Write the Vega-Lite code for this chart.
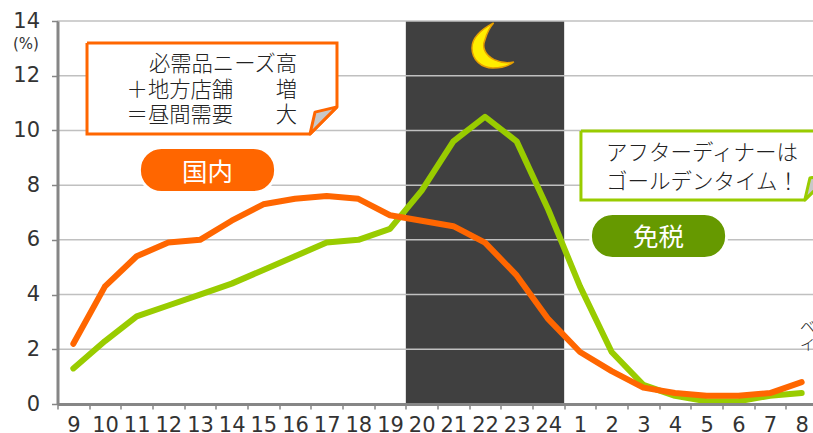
{
  "$schema": "https://vega.github.io/schema/vega-lite/v6.json",
  "width": 755.5,
  "height": 383,
  "autosize": "none",
  "padding": {"left": 57.5, "top": 21, "right": 0, "bottom": 29},
  "background": "white",
  "config": {"view": {"stroke": null}},
  "datasets": {
    "series": [
      {"hour":"9","group":"国内","share":2.2},{"hour":"10","group":"国内","share":4.3},{"hour":"11","group":"国内","share":5.4},{"hour":"12","group":"国内","share":5.9},
      {"hour":"13","group":"国内","share":6.0},{"hour":"14","group":"国内","share":6.7},{"hour":"15","group":"国内","share":7.3},{"hour":"16","group":"国内","share":7.5},
      {"hour":"17","group":"国内","share":7.6},{"hour":"18","group":"国内","share":7.5},{"hour":"19","group":"国内","share":6.9},{"hour":"20","group":"国内","share":6.7},
      {"hour":"21","group":"国内","share":6.5},{"hour":"22","group":"国内","share":5.9},{"hour":"23","group":"国内","share":4.7},{"hour":"24","group":"国内","share":3.1},
      {"hour":"1","group":"国内","share":1.9},{"hour":"2","group":"国内","share":1.2},{"hour":"3","group":"国内","share":0.6},{"hour":"4","group":"国内","share":0.4},
      {"hour":"5","group":"国内","share":0.3},{"hour":"6","group":"国内","share":0.3},{"hour":"7","group":"国内","share":0.4},{"hour":"8","group":"国内","share":0.8},
      {"hour":"9","group":"免税","share":1.3},{"hour":"10","group":"免税","share":2.3},{"hour":"11","group":"免税","share":3.2},{"hour":"12","group":"免税","share":3.6},
      {"hour":"13","group":"免税","share":4.0},{"hour":"14","group":"免税","share":4.4},{"hour":"15","group":"免税","share":4.9},{"hour":"16","group":"免税","share":5.4},
      {"hour":"17","group":"免税","share":5.9},{"hour":"18","group":"免税","share":6.0},{"hour":"19","group":"免税","share":6.4},{"hour":"20","group":"免税","share":7.8},
      {"hour":"21","group":"免税","share":9.6},{"hour":"22","group":"免税","share":10.5},{"hour":"23","group":"免税","share":9.6},{"hour":"24","group":"免税","share":7.1},
      {"hour":"1","group":"免税","share":4.3},{"hour":"2","group":"免税","share":1.9},{"hour":"3","group":"免税","share":0.7},{"hour":"4","group":"免税","share":0.3},
      {"hour":"5","group":"免税","share":0.1},{"hour":"6","group":"免税","share":0.1},{"hour":"7","group":"免税","share":0.3},{"hour":"8","group":"免税","share":0.4}
    ],
    "levels": [{"level":2},{"level":4},{"level":6},{"level":8},{"level":10},{"level":12},{"level":14}],
    "orangeNote": [
      {"seq":0,"u":0.932,"v":13.2},{"seq":1,"u":8.826,"v":13.2},{"seq":2,"u":8.826,"v":10.86},{"seq":3,"u":7.974,"v":9.87},{"seq":4,"u":0.932,"v":9.87},{"seq":5,"u":0.932,"v":13.2}
    ],
    "orangeFold": [
      {"seq":0,"u":8.826,"v":10.86},{"seq":1,"u":8.132,"v":10.67},{"seq":2,"u":7.974,"v":9.87},{"seq":3,"u":8.826,"v":10.86}
    ],
    "greenNote": [
      {"seq":0,"u":16.53,"v":9.98},{"seq":1,"u":24.46,"v":9.98},{"seq":2,"u":24.46,"v":8.44},{"seq":3,"u":23.6,"v":7.46},{"seq":4,"u":16.53,"v":7.46},{"seq":5,"u":16.53,"v":9.98}
    ],
    "greenFold": [
      {"seq":0,"u":24.46,"v":8.44},{"seq":1,"u":23.76,"v":8.26},{"seq":2,"u":23.6,"v":7.46},{"seq":3,"u":24.46,"v":8.44}
    ]
  },
  "layer": [
    {
      "data": {"values": [{"from":11,"to":16,"low":0,"high":14}]},
      "mark": {"type": "rect", "color": "#404040"},
      "encoding": {
        "x": {"field": "from", "type": "quantitative", "axis": null, "scale": {"domain": [0, 24], "range": [0, 760], "nice": false}},
        "x2": {"field": "to"},
        "y": {"field": "low", "type": "quantitative", "scale": {"domain": [0, 14], "nice": false}},
        "y2": {"field": "high"}
      }
    },
    {
      "data": {"name": "levels"},
      "mark": {"type": "rule", "color": "#c0c0c0", "strokeWidth": 1.5},
      "encoding": {"y": {"field": "level", "type": "quantitative"}}
    },
    {
      "data": {"name": "series"},
      "transform": [{"filter": "datum.group === '免税'"}],
      "mark": {"type": "line", "color": "#99cc00", "strokeWidth": 6, "strokeCap": "round", "strokeJoin": "round"},
      "encoding": {
        "x": {
          "field": "hour", "type": "nominal", "sort": null, "title": null,
          "scale": {"domain": ["9","10","11","12","13","14","15","16","17","18","19","20","21","22","23","24","1","2","3","4","5","6","7","8"], "range": [0, 760], "paddingInner": 0, "paddingOuter": 0},
          "axis": {"labelAngle": 0, "labelFont": "DejaVu Sans", "labelFontSize": 21, "labelColor": "#333333", "labelPadding": 5, "labelOverlap": false, "tickBand": "extent", "tickColor": "#868686", "tickSize": 5, "tickWidth": 1.5, "domainColor": "#868686", "domainWidth": 3, "grid": false, "zindex": 1}
        },
        "y": {
          "field": "share", "type": "quantitative", "title": null,
          "axis": {"values": [0,2,4,6,8,10,12,14], "labelFont": "DejaVu Sans", "labelFontSize": 21, "labelColor": "#333333", "labelPadding": 12, "tickColor": "#868686", "tickSize": 6, "tickWidth": 1.5, "domainColor": "#868686", "domainWidth": 3, "grid": false, "zindex": 1}
        }
      }
    },
    {
      "data": {"name": "series"},
      "transform": [{"filter": "datum.group === '国内'"}],
      "mark": {"type": "line", "color": "#ff6600", "strokeWidth": 6, "strokeCap": "round", "strokeJoin": "round"},
      "encoding": {
        "x": {"field": "hour", "type": "nominal", "sort": null, "axis": null, "scale": {"domain": ["9","10","11","12","13","14","15","16","17","18","19","20","21","22","23","24","1","2","3","4","5","6","7","8"], "range": [0, 760], "paddingInner": 0, "paddingOuter": 0}},
        "y": {"field": "share", "type": "quantitative"}
      }
    },
    {
      "layer": [
        {
          "data": {"name": "orangeNote"},
          "mark": {"type": "line", "fill": "white", "stroke": "#ff6600", "strokeWidth": 3, "strokeJoin": "miter"},
          "encoding": {"order": {"field": "seq"}}
        },
        {
          "data": {"name": "orangeFold"},
          "mark": {"type": "line", "fill": "#c8c8c8", "stroke": "#ff6600", "strokeWidth": 3, "strokeJoin": "round"},
          "encoding": {"order": {"field": "seq"}}
        },
        {
          "data": {"name": "greenNote"},
          "mark": {"type": "line", "fill": "white", "stroke": "#99cc00", "strokeWidth": 3, "strokeJoin": "miter"},
          "encoding": {"order": {"field": "seq"}}
        },
        {
          "data": {"name": "greenFold"},
          "mark": {"type": "line", "fill": "#c8c8c8", "stroke": "#99cc00", "strokeWidth": 3, "strokeJoin": "round"},
          "encoding": {"order": {"field": "seq"}}
        },
        {
          "data": {"values": [
            {"u":2.587,"u2":6.887,"v":9.375,"v2":7.735,"fill":"国内"},
            {"u":16.83,"u2":21.13,"v":6.965,"v2":5.315,"fill":"免税"}
          ]},
          "mark": {"type": "rect", "cornerRadius": 22, "stroke": "white", "strokeWidth": 3},
          "encoding": {
            "x2": {"field": "u2"},
            "y": {"field": "v", "type": "quantitative"},
            "y2": {"field": "v2"},
            "fill": {"field": "fill", "type": "nominal", "legend": null, "scale": {"domain": ["国内","免税"], "range": ["#ff6600","#669900"]}}
          }
        },
        {
          "data": {"values": [
            {"u":4.737,"v":8.45,"label":"国内"},
            {"u":18.98,"v":6.07,"label":"免税"}
          ]},
          "mark": {"type": "text", "font": "Noto Sans CJK JP", "fontSize": 25.5, "color": "white", "baseline": "middle", "align": "center"},
          "encoding": {"text": {"field": "label"}}
        },
        {
          "data": {"values": [
            {"u":7.563,"v":12.39,"label":"必需品ニーズ高"},
            {"u":7.563,"v":11.44,"label":"＋地方店舗　　増"},
            {"u":7.563,"v":10.53,"label":"＝昼間需要　　大"}
          ]},
          "mark": {"type": "text", "font": "Noto Sans CJK JP", "fontSize": 21.3, "fontWeight": 300, "color": "#222222", "baseline": "middle", "align": "right"},
          "encoding": {"text": {"field": "label"}}
        },
        {
          "data": {"values": [
            {"u":17.32,"v":9.14,"label":"アフターディナーは"},
            {"u":17.32,"v":8.08,"label":"ゴールデンタイム！"},
            {"u":23.45,"v":2.81,"label":"ベ"},
            {"u":23.45,"v":2.16,"label":"イ"}
          ]},
          "mark": {"type": "text", "font": "Noto Sans CJK JP", "fontWeight": 300, "color": "#222222", "baseline": "middle", "align": "left"},
          "encoding": {
            "text": {"field": "label"},
            "size": {"condition": {"test": "datum.u > 20", "value": 15}, "value": 21.5}
          }
        },
        {
          "data": {"values": [{"u":-0.995,"v":13.16,"label":"(%)"}]},
          "mark": {"type": "text", "font": "DejaVu Sans", "fontSize": 15, "color": "#333333", "baseline": "middle", "align": "center"},
          "encoding": {"text": {"field": "label"}}
        },
        {
          "data": {"values": [{"u":13.75,"v":13.09,"label":"月"}]},
          "mark": {
            "type": "point", "filled": true, "fill": "#ffee00", "stroke": "#e8a000", "strokeWidth": 1.5, "opacity": 1, "size": 2116,
            "shape": "M0.03,-1 C-0.55,-0.7 -0.91,-0.3 -0.91,0.09 C-0.91,0.6 -0.5,0.96 0,0.96 C0.4,0.96 0.7,0.85 0.91,0.7 C0.6,0.76 0.3,0.72 0.05,0.6 C-0.3,0.42 -0.5,0.1 -0.35,-0.25 C-0.28,-0.5 -0.15,-0.8 0.03,-1 Z"
          },
          "encoding": {}
        }
      ],
      "encoding": {
        "x": {"field": "u", "type": "quantitative", "axis": null, "scale": {"domain": [0, 24], "range": [0, 760], "nice": false}},
        "y": {"field": "v", "type": "quantitative"}
      },
      "resolve": {"scale": {"fill": "independent"}}
    }
  ],
  "resolve": {"scale": {"x": "independent"}}
}
